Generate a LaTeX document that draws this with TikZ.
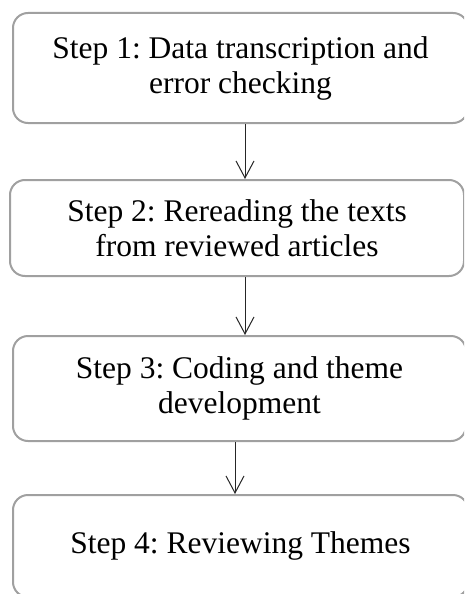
\documentclass[tikz,border=0pt]{standalone}
\usepackage{fontspec}
\setmainfont{Liberation Serif}
\usetikzlibrary{arrows.meta}
\definecolor{boxgray}{RGB}{160,160,160}
\frenchspacing

\begin{document}
\begin{tikzpicture}[x=1pt,y=-1pt,
  stepbox/.style={draw=boxgray,line width=2pt,rounded corners=15pt,
    align=center,inner sep=0pt,font=\fontsize{31.5}{35}\selectfont},
  arr/.style={-{Straight Barb[length=17pt,width=18pt]},line width=1pt,draw=black!85}]
\useasboundingbox (0,0) rectangle (464,594);
\clip (0,0) rectangle (464,594);

\node[stepbox,minimum width=455pt,minimum height=110pt] (s1) at (240.5,68)
  {Step 1: Data transcription and\\error checking};
\node[stepbox,minimum width=454pt,minimum height=96pt] (s2) at (237,228)
  {Step 2: Rereading the texts\\from reviewed articles};
\node[stepbox,minimum width=453pt,minimum height=105pt] (s3) at (239.5,388.5)
  {Step 3: Coding and theme\\development};
\node[stepbox,minimum width=455pt,minimum height=102pt] (s4) at (240.5,546)
  {Step 4: Reviewing Themes};

\coordinate (a1) at (245,0);
\coordinate (a3) at (235,0);
\draw[arr] (s1.south -| a1) -- (s2.north -| a1);
\draw[arr] (s2.south -| a1) -- (s3.north -| a1);
\draw[arr] (s3.south -| a3) -- (s4.north -| a3);
\end{tikzpicture}
\end{document}
